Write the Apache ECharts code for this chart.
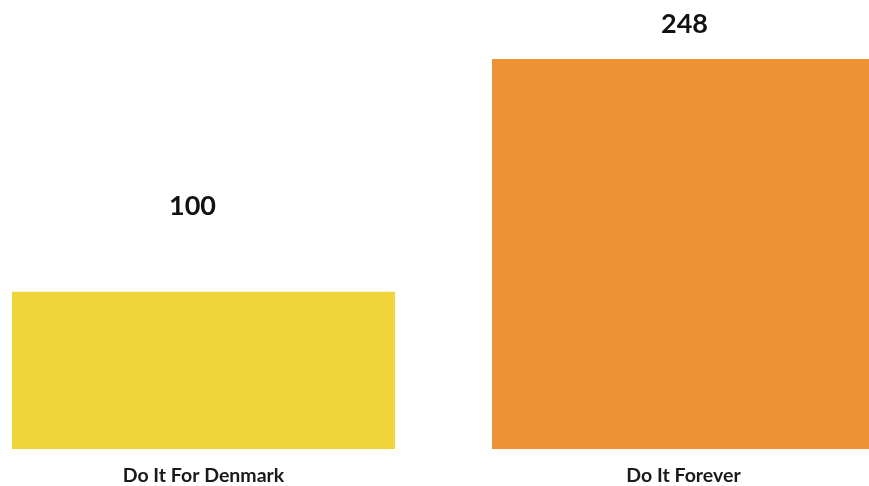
<!DOCTYPE html>
<html>
<head>
<meta charset="utf-8">
<script src="https://cdn.jsdelivr.net/npm/echarts@6/dist/echarts.min.js"></script>
<style>
html,body{margin:0;padding:0;background:#fff;}
#chart{width:869px;height:486px;}
</style>
</head>
<body>
<div id="chart"></div>
<script>
const categories = ["Do It For Denmark", "Do It Forever"];
const values = [100, 248];
const colors = ["#EFD539", "#EE9236"];
const labelOffsets = [[-11, -70], [1, -20]];

const chart = echarts.init(document.getElementById('chart'));
chart.setOption({
  animation: false,
  backgroundColor: '#ffffff',
  grid: { left: 203.5, right: 185.5, top: 59, bottom: 37, containLabel: false },
  xAxis: {
    type: 'category',
    data: categories,
    boundaryGap: false,
    axisLine: { show: false },
    axisTick: { show: false },
    axisLabel: {
      interval: 0,
      margin: 17,
      color: '#1a1a1a',
      fontFamily: 'Lato',
      fontWeight: 'bold',
      fontSize: 19.5
    }
  },
  yAxis: {
    type: 'value',
    min: 0,
    max: 248,
    show: false,
    splitLine: { show: false }
  },
  series: [{
    type: 'bar',
    barWidth: 383,
    data: values.map((v, i) => ({
      value: v,
      itemStyle: { color: colors[i] },
      label: {
        show: true,
        position: 'top',
        distance: 0,
        offset: labelOffsets[i],
        color: '#111',
        fontFamily: 'Lato',
        fontWeight: 'bold',
        fontSize: 27,
        lineHeight: 30
      }
    }))
  }]
});
</script>
</body>
</html>
